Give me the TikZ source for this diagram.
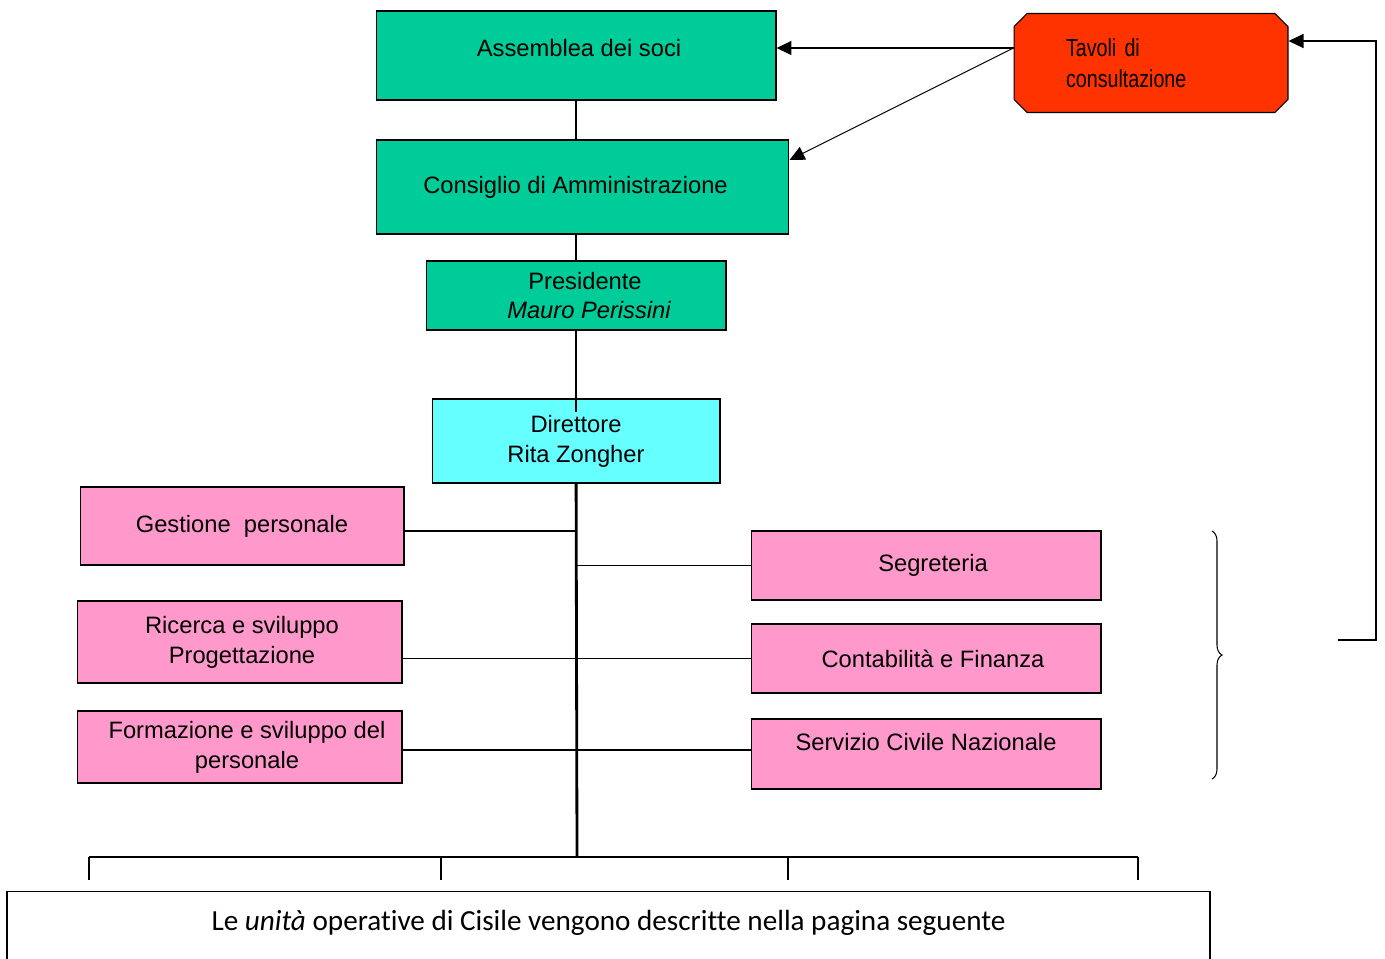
\documentclass[tikz,border=0pt]{standalone}
\usepackage{fontspec}
\setmainfont{Liberation Sans}
\newfontfamily\calfont[Ligatures={NoCommon,NoContextual}]{Carlito}
\newfontfamily\narrowfont[FakeStretch=0.8, WordSpace=0.7]{Liberation Sans}
\usepackage{tikz}
\usetikzlibrary{shapes.misc, arrows.meta, decorations.pathreplacing}
\definecolor{boardgreen}{HTML}{00CC99}
\definecolor{directcyan}{HTML}{66FFFF}
\definecolor{officepink}{HTML}{FF99CC}
\definecolor{tablered}{HTML}{FF3300}

\begin{document}
\begin{tikzpicture}[
    x=0.02cm, y=-0.02cm,
    box/.style={rectangle, draw=black, line width=0.6pt, align=center,
                font=\fontsize{13.5}{17}\selectfont, inner sep=0pt},
    greenbox/.style={box, fill=boardgreen},
    pinkbox/.style={box, fill=officepink},
    line/.style={draw=black, line width=0.6pt},
    arrow/.style={-{Triangle[length=0.3cm, width=0.28cm]}, line width=0.6pt}
]
\useasboundingbox (0,0) rectangle (1385,958);

% governing bodies
\node[greenbox, minimum width=8cm, minimum height=1.78cm, text depth=0.3cm] (assemblea) at (576,55.5) {\hspace*{0.12cm}Assemblea dei soci};
\node[greenbox, minimum width=8.26cm, minimum height=1.88cm] (consiglio) at (582.5,187) {Consiglio di Amministrazione\hspace*{0.28cm}};
\node[greenbox, minimum width=6cm, minimum height=1.38cm] (presidente) at (576,295.5) {\hspace*{0.36cm}Presidente\\\hspace*{0.52cm}\itshape Mauro Perissini};
\node[box, fill=directcyan, minimum width=5.76cm, minimum height=1.68cm] (direttore) at (576,441) {Direttore\\Rita Zongher};
\node[chamfered rectangle, chamfered rectangle xsep=0.1cm, chamfered rectangle ysep=0.16cm,
      draw=black, line width=0.6pt, fill=tablered, minimum width=5.48cm, minimum height=1.98cm,
      text width=3.4cm, align=left, font=\narrowfont\fontsize{14}{17.6}\selectfont] (tavoli) at (1151,63) {Tavoli di\\consultazione};

% offices
\node[pinkbox, minimum width=6.48cm, minimum height=1.56cm] (gestione) at (242,526) {Gestione~ personale};
\node[pinkbox, minimum width=6.5cm, minimum height=1.64cm] (ricerca) at (239.5,642) {\hspace*{0.1cm}Ricerca e sviluppo\\\hspace*{0.1cm}Progettazione};
\node[pinkbox, minimum width=6.5cm, minimum height=1.44cm] (formazione) at (239.5,747) {\hspace*{0.3cm}Formazione e sviluppo del\\\hspace*{0.3cm}personale};
\node[pinkbox, minimum width=7cm, minimum height=1.38cm] (segreteria) at (926,565.5) {\hspace*{0.28cm}Segreteria};
\node[pinkbox, minimum width=7cm, minimum height=1.38cm] (contabilita) at (926,658.5) {\hspace*{0.28cm}Contabilità e Finanza};
\node[pinkbox, minimum width=7cm, minimum height=1.4cm, text depth=0.5cm] (servizio) at (926,754) {Servizio Civile Nazionale};

\node[rectangle, draw=black, line width=0.8pt, anchor=north, minimum width=24.06cm,
      inner sep=0pt, text height=0.78cm, text depth=1cm,
      font=\calfont\fontsize{16.6}{20}\selectfont] (unita) at (608.5,891)
      {Le \textit{unità} operative di Cisile vengono descritte nella pagina seguente};

\coordinate (hub) at (577,857);
\coordinate (tw) at ([yshift=0.3cm]tavoli.west);
\coordinate (fb) at (1338,640);
\coordinate (fbtop) at (1376,41);

% hierarchy
\draw[line] (assemblea) -- (assemblea |- consiglio.north);
\draw[line] (presidente |- consiglio.south) -- (presidente);
\draw[line] (presidente) -- ([yshift=-0.28cm]direttore.north);
\draw[line, line width=1.6pt] (direttore) -- (hub);
\draw[line] ([yshift=-0.1cm]gestione.east) -- ([yshift=-0.1cm]gestione.east -| hub);
\draw[line] (segreteria.west) -- (segreteria.west -| hub);
\draw[line] (contabilita.west) -- (contabilita.west -| ricerca.east);
\draw[line] ([yshift=-0.06cm]formazione.east) -- ([yshift=-0.06cm]formazione.east -| servizio.west);
\draw[line] (89,857) -- (1138,857);
\foreach \x in {89,441,788,1138}
    \draw[line] (\x,857) -- (\x,880);

% consultation
\draw[arrow] (tw) -- (tw -| assemblea.east);
\draw[arrow] (tw) -- ([yshift=0.54cm]consiglio.east);
\draw[arrow] (fb) -| (fbtop) -- (fbtop -| tavoli.east);
\draw[line, decorate, decoration={brace, amplitude=0.2cm}] (1212,531) -- (1212,779);
\end{tikzpicture}
\end{document}
